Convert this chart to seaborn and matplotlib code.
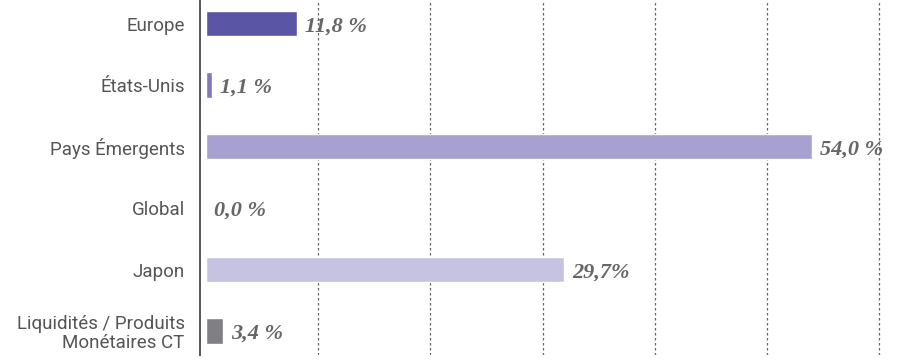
import matplotlib
matplotlib.use("Agg")
import matplotlib.pyplot as plt
import seaborn as sns
import pandas as pd

# categories, bar lengths (as drawn in the reference) and printed labels
categories = ["Europe", "États-Unis", "Pays Émergents", "Global", "Japon",
              "Liquidités / Produits\nMonétaires CT"]
bar_values = [8.1, 0.55, 54.0, 0.0, 31.9, 1.5]
value_labels = ["11,8 %", "1,1 %", "54,0 %", "0,0 %", "29,7%", "3,4 %"]
colors = ["#5b55a5", "#8079bd", "#a7a1d1", "#a7a1d1", "#c6c3e1", "#808084"]
grid_ticks = [10, 20, 30, 40, 50, 60]

sns.set_style("white")
plt.rcParams["font.family"] = ["Roboto", "DejaVu Sans"]

df = pd.DataFrame({"cat": categories, "val": bar_values})

fig = plt.figure(figsize=(8.98, 3.61), dpi=100)
ax = fig.add_axes([0.2227, 0.0166, 0.7628, 0.983])

sns.barplot(data=df, x="val", y="cat", hue="cat", palette=dict(zip(categories, colors)),
            orient="h", width=0.41, legend=False, ax=ax, saturation=1)

ax.set_xlim(-0.53, 60.5)
ax.set_ylim(5.39, -0.38)
ax.set_xticks(grid_ticks)
ax.set_xticklabels([])
ax.tick_params(axis="x", length=0)
ax.tick_params(axis="y", length=0, pad=11, labelsize=13.5, labelcolor="#555555")
for lab in ax.get_yticklabels():
    lab.set_horizontalalignment("right")
    lab.set_linespacing(1.1)
ax.xaxis.grid(True, linestyle=(0, (2, 2)), color="#666666", linewidth=0.9)
ax.set_axisbelow(True)
ax.set_xlabel("")
ax.set_ylabel("")
for side in ["top", "right", "bottom"]:
    ax.spines[side].set_visible(False)
ax.spines["left"].set_color("#555555")
ax.spines["left"].set_linewidth(1.4)

for i, (v, lab) in enumerate(zip(bar_values, value_labels)):
    ax.annotate(lab, xy=(v, i), xytext=(6, -2), textcoords="offset points",
                va="center", ha="left", fontsize=16, fontstyle="italic",
                fontweight="bold", color="#666666", family="Liberation Serif")

fig.savefig("out.png", dpi=100)
